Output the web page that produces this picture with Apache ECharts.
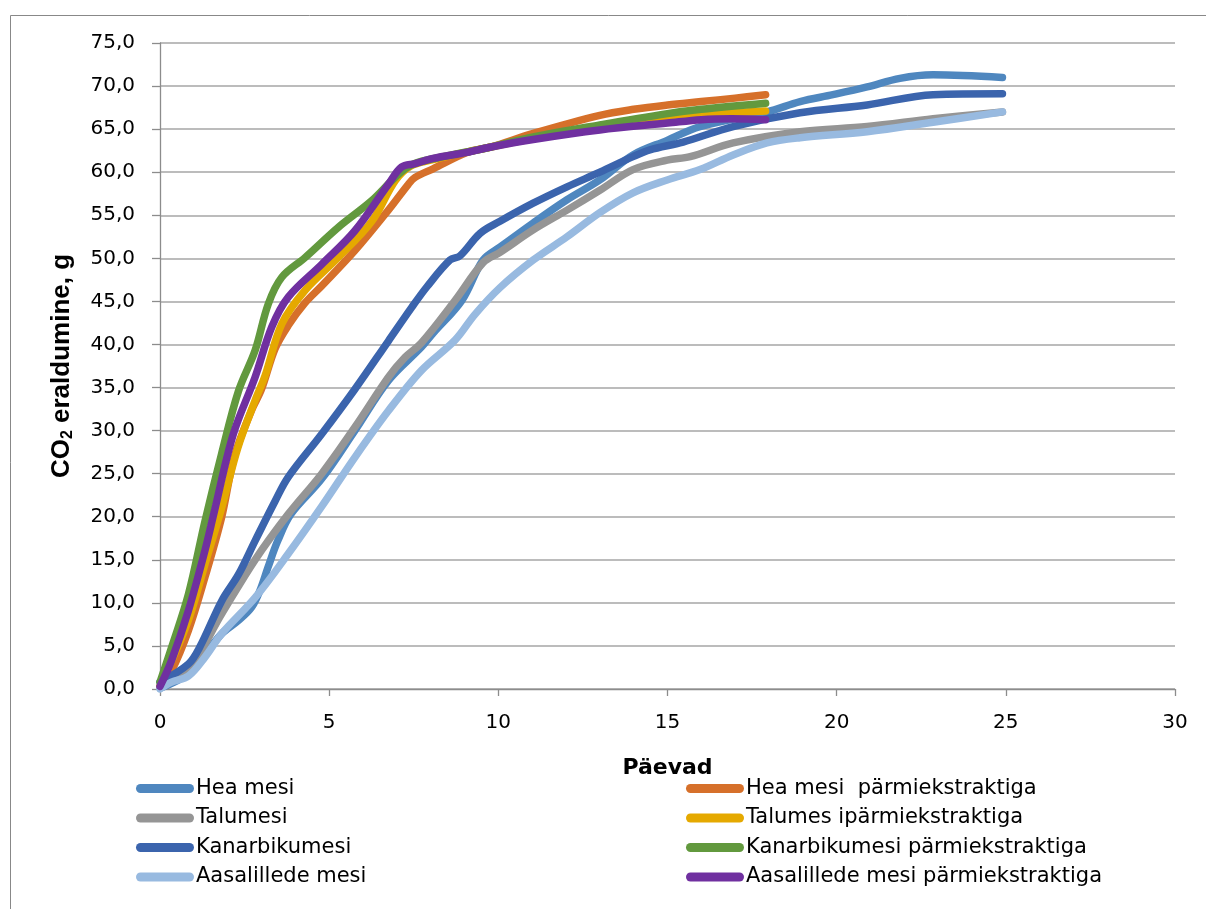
<!DOCTYPE html>
<html>
<head>
<meta charset="utf-8">
<script src="https://cdn.jsdelivr.net/npm/echarts@6/dist/echarts.min.js"></script>
<style>
html,body{margin:0;padding:0;background:#fff;}
#c{width:1206px;height:909px;}
</style>
</head>
<body>
<div id="c"></div>
<script>
// ---- data (day, CO2 g) ----
const seriesNames = ['Hea mesi','Hea mesi  pärmiekstraktiga','Talumesi','Talumes ipärmiekstraktiga','Kanarbikumesi','Kanarbikumesi pärmiekstraktiga','Aasalillede mesi','Aasalillede mesi pärmiekstraktiga'];
const heaMesi = [[0,0.1],[0.84,1.8],[1.82,6.4],[2.3,7.9],[2.71,9.5],[2.99,11.8],[3.19,14.1],[3.48,17.2],[3.87,20.3],[4.78,24.4],[5.76,30.0],[6.75,35.8],[7.73,39.7],[8.07,41.3],[8.92,45.1],[9.55,49.8],[10.05,51.3],[11.03,54.1],[12.03,56.8],[13.0,59.1],[13.98,62.0],[14.99,63.7],[15.96,65.3],[17.94,67.0],[18.92,68.2],[19.89,69.0],[20.9,69.9],[21.87,70.9],[22.85,71.3],[24.9,71.0]];
const heaParm = [[0,0.3],[0.34,2.1],[0.84,6.8],[1.33,13.0],[1.82,19.9],[2.2,27.0],[2.7,32.3],[3.0,34.8],[3.4,39.5],[3.79,42.2],[4.28,44.8],[4.78,46.8],[5.76,50.9],[6.75,55.6],[7.34,58.6],[7.54,59.4],[8.07,60.4],[9.07,62.3],[9.75,62.9],[11.03,64.5],[13.0,66.6],[14.0,67.3],[15.0,67.8],[16.0,68.2],[17.0,68.6],[17.9,69.0]];
const taluMesi = [[0,0.3],[0.84,2.3],[1.82,8.7],[2.81,15.0],[3.79,20.3],[4.78,25.0],[5.76,30.4],[6.75,36.2],[7.24,38.5],[7.73,40.2],[8.72,45.1],[9.55,49.5],[10.05,50.7],[11.03,53.3],[12.03,55.6],[13.0,57.9],[13.98,60.3],[14.99,61.4],[15.67,61.8],[16.94,63.4],[18.92,64.7],[20.9,65.3],[22.85,66.2],[24.9,67.0]];
const taluParm = [[0,0.3],[0.84,8.0],[1.33,14.5],[1.82,21.0],[2.3,28.0],[2.81,33.5],[3.1,36.3],[3.6,42.4],[4.29,46.3],[5.27,50.1],[6.26,54.3],[6.95,59.0],[7.4,60.7],[8.0,61.4],[9.75,62.9],[11.03,63.9],[13.0,65.2],[15.0,66.3],[16.0,66.7],[17.9,67.1]];
const kanarbiMesi = [[0,0.8],[0.84,2.9],[1.18,4.9],[1.82,10.2],[2.32,13.3],[2.81,17.2],[3.4,21.8],[3.79,24.6],[4.78,29.6],[5.76,34.8],[6.75,40.4],[7.44,44.3],[7.89,46.7],[8.57,49.8],[8.87,50.3],[9.46,52.9],[10.05,54.3],[11.03,56.4],[12.03,58.3],[13.0,60.0],[13.98,61.8],[14.48,62.6],[15.46,63.5],[16.94,65.3],[18.92,66.9],[20.9,67.8],[22.85,69.0],[24.9,69.1]];
const kanarbiParm = [[0,0.8],[0.34,4.8],[0.84,11.0],[1.33,19.5],[1.82,27.3],[2.32,34.6],[2.81,39.3],[3.2,44.7],[3.6,47.8],[4.29,50.1],[5.27,53.6],[6.26,56.7],[6.95,59.4],[7.4,60.8],[8.0,61.5],[9.75,62.9],[11.03,64.1],[13.0,65.5],[15.0,66.8],[16.0,67.3],[17.9,68.0]];
const aasaMesi = [[0,0.0],[0.34,0.8],[0.84,1.5],[1.33,3.7],[1.82,6.4],[2.81,10.6],[3.79,15.7],[4.78,21.2],[5.76,26.9],[6.75,32.3],[7.73,37.0],[8.72,40.5],[9.31,43.5],[10.05,46.6],[11.03,49.8],[12.03,52.5],[13.0,55.3],[13.98,57.6],[14.99,59.1],[15.96,60.3],[16.94,62.0],[17.94,63.4],[18.92,64.0],[20.9,64.7],[22.85,65.8],[24.9,67.0]];
const aasaParm = [[0,0.3],[0.34,3.3],[0.84,9.1],[1.33,16.1],[1.6,20.5],[2.16,29.5],[2.81,36.2],[3.3,42.0],[3.79,45.5],[4.78,49.3],[5.76,53.2],[6.75,58.6],[7.14,60.6],[7.54,61.0],[8.07,61.6],[9.07,62.3],[9.75,62.9],[11.03,63.8],[13.0,64.9],[15.0,65.7],[16.0,66.1],[16.9,66.2],[17.9,66.1]];
const allData = [heaMesi, heaParm, taluMesi, taluParm, kanarbiMesi, kanarbiParm, aasaMesi, aasaParm];
const colors = ['#4F87BF','#D6702A','#959595','#E5A900','#3B64AD','#62993E','#98BAE0','#7030A0'];

const chart = echarts.init(document.getElementById('c'), null, {renderer:'canvas'});
const legendIcon = 'path://M4.5,0 H53.5 A4.5,4.5 0 0 1 53.5,9 H4.5 A4.5,4.5 0 0 1 4.5,0 Z';
const legendCommon = {
  orient:'vertical', icon: legendIcon, itemWidth:58, itemHeight:9, itemGap:8.5,
  itemStyle:{borderWidth:0},
  textStyle:{fontFamily:'DejaVu Sans', fontSize:21, color:'#000', padding:[0,0,0,-3]},
  selectedMode:false
};
chart.setOption({
  animation:false,
  graphic:[{type:'rect', left:8, top:13, shape:{x:0,y:0,width:1300,height:1000}, style:{fill:'none', stroke:'#888', lineWidth:1}, z:-1}],
  grid:{left:160, right:31, top:43, bottom:220, containLabel:false},
  xAxis:{
    type:'value', min:0, max:30, interval:5,
    name:'Päevad', nameLocation:'middle', nameGap:68,
    nameTextStyle:{fontFamily:'DejaVu Sans', fontWeight:'bold', fontSize:22, color:'#000'},
    axisLine:{lineStyle:{color:'#8c8c8c', width:1.3}},
    axisTick:{show:true, inside:false, length:7, lineStyle:{color:'#8c8c8c', width:1.3}},
    axisLabel:{fontFamily:'DejaVu Sans', fontSize:20, color:'#000', margin:24},
    splitLine:{show:false}
  },
  yAxis:{
    type:'value', min:0, max:75, interval:5,
    name:'CO{sub|2} eraldumine, g', nameLocation:'middle', nameGap:84, nameRotate:90,
    nameTextStyle:{fontFamily:'Liberation Sans', fontWeight:'bold', fontSize:26, color:'#000',
      rich:{sub:{fontFamily:'Liberation Sans', fontWeight:'bold', fontSize:16, color:'#000', verticalAlign:'bottom', padding:[12,0,0,0]}}},
    axisLine:{show:true, lineStyle:{color:'#8c8c8c', width:1.3}},
    axisTick:{show:true, inside:false, length:8, lineStyle:{color:'#8c8c8c', width:1.3}},
    axisLabel:{fontFamily:'DejaVu Sans', fontSize:20, color:'#000', margin:25,
      formatter:v=>v.toFixed(1).replace('.',',')},
    splitLine:{show:true, lineStyle:{color:'#a6a6a6', width:1.5}}
  },
  legend:[
    Object.assign({left:131, top:773, data:[seriesNames[0],seriesNames[2],seriesNames[4],seriesNames[6]]}, legendCommon),
    Object.assign({left:681, top:773, data:[seriesNames[1],seriesNames[3],seriesNames[5],seriesNames[7]]}, legendCommon)
  ],
  series: allData.map((d,i)=>({
    name:seriesNames[i], type:'line', data:d, smooth:0.35, showSymbol:false, symbol:'none',
    color:colors[i],
    lineStyle:{color:colors[i], width:7.5, cap:'round', join:'round'},
    itemStyle:{color:colors[i]},
    emphasis:{disabled:true}
  }))
});
</script>
</body>
</html>
